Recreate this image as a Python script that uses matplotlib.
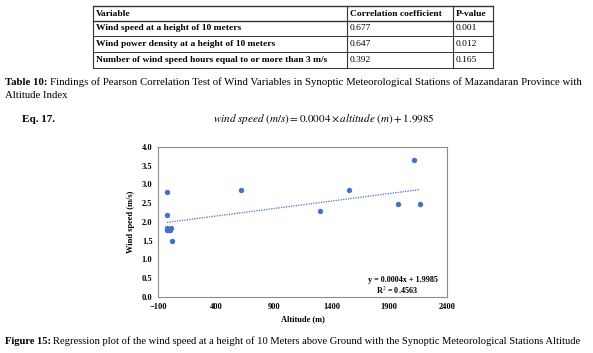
import numpy as np
import matplotlib.pyplot as plt

plt.rcParams['font.family'] = ['Liberation Serif', 'DejaVu Serif']
plt.rcParams['mathtext.fontset'] = 'stix'

# table data
table_header = ['Variable', 'Correlation coefficient', 'P-value']
table_vars = ['Wind speed at a height of 10 meters',
              'Wind power density at a height of 10 meters',
              'Number of wind speed hours equal to or more than 3 m/s']
table_corr = ['0.677', '0.647', '0.392']
table_pval = ['0.001', '0.012', '0.165']

# scatter data (stations)
altitude = [-20, -20, -22, -18, -8, 2, 15, 25, 618, 1299, 1550, 1974, 2118, 2167]
speed = [2.80, 2.19, 1.83, 1.80, 1.80, 1.80, 1.85, 1.49, 2.85, 2.29, 2.86, 2.48, 3.66, 2.48]
slope, intercept, r2 = 0.0004, 1.9985, 0.4563

W, H = 593, 353
fig = plt.figure(figsize=(W / 100, H / 100), dpi=100)

# overlay in pixel coordinates for the page content
page = fig.add_axes([0, 0, 1, 1])
page.set_xlim(0, W)
page.set_ylim(H, 0)
page.axis('off')

# ---- table ----
col_x = [93, 347, 453, 493]
row_y = [5.5, 20.5, 35.5, 51.5, 67.5]
for i, y in enumerate(row_y):
    page.plot([col_x[0], col_x[-1]], [y, y], color='#333333', lw=1.0 if i < 2 else 0.7)
for x in col_x:
    page.plot([x, x], [row_y[0], row_y[-1]], color='#333333', lw=0.8)

fs_tab = 6.8
for j, h in enumerate(table_header):
    page.text(col_x[j] + 3, (row_y[0] + row_y[1]) / 2 + 0.5, h, fontsize=fs_tab,
              fontweight='bold', va='center')
for i in range(len(table_vars)):
    yc = (row_y[i + 1] + row_y[i + 2]) / 2 + 0.5
    page.text(col_x[0] + 3, yc, table_vars[i], fontsize=fs_tab, fontweight='bold', va='center')
    page.text(col_x[1] + 3, yc, table_corr[i], fontsize=fs_tab, va='center')
    page.text(col_x[2] + 3, yc, table_pval[i], fontsize=fs_tab, va='center')

fig.canvas.draw()
renderer = fig.canvas.get_renderer()


def bold_lead(x, y, lead, rest, fs):
    t = page.text(x, y, lead, fontsize=fs, fontweight='bold', va='center')
    bb = t.get_window_extent(renderer)
    page.text(x + bb.width + 2.2, y, rest, fontsize=fs, va='center')


bold_lead(5, 82.5, 'Table 10:', 'Findings of Pearson Correlation Test of Wind Variables in '
          'Synoptic Meteorological Stations of Mazandaran Province with', 7.75)
page.text(5, 95.5, 'Altitude Index', fontsize=7.75, va='center')

page.text(22, 119, 'Eq. 17.', fontsize=8, fontweight='bold', va='center')
page.text(324, 119, r'$wind\ speed\ (m/s) = 0.0004 \times altitude\ (m) + 1.9985$',
          fontsize=8, va='center', ha='center')

bold_lead(5, 341.5, 'Figure 15:', 'Regression plot of the wind speed at a height of 10 Meters '
          'above Ground with the Synoptic Meteorological Stations Altitude', 7.6)

# ---- chart ----
ax = fig.add_axes([158 / W, 1 - 297 / H, 289 / W, 150 / H])
ax.scatter(altitude, speed, s=15, color='#4472C4', zorder=3, linewidths=0)
xs = np.array([min(altitude), max(altitude)])
ax.plot(xs, slope * xs + intercept, color='#4472C4', lw=0.9,
        linestyle=(0, (1, 1)), zorder=2)
ax.set_xlim(-100, 2400)
ax.set_ylim(0, 4)
ax.set_xticks([-100, 400, 900, 1400, 1900, 2400])
ax.set_yticks(np.arange(0, 4.01, 0.5))
ax.set_yticklabels([f'{v:.1f}' for v in np.arange(0, 4.01, 0.5)])
ax.tick_params(length=0, labelsize=6, pad=4)
for lab in ax.get_xticklabels() + ax.get_yticklabels():
    lab.set_fontweight('bold')
for s in ax.spines.values():
    s.set_color('#8c8c8c')
    s.set_linewidth(0.8)
ax.set_xlabel('Altitude (m)', fontsize=6, fontweight='bold', labelpad=3)
ax.set_ylabel('Wind speed (m/s)', fontsize=6, fontweight='bold', labelpad=5)
ax.text(0.97, 0.11, f'y = {slope}x + {intercept}', transform=ax.transAxes,
        fontsize=5.9, fontweight='bold', ha='right', va='center')
ax.text(0.9, 0.045, f'R$^2$ = {r2}', transform=ax.transAxes,
        fontsize=5.9, fontweight='bold', ha='right', va='center')

fig.savefig('out.png', dpi=100)
